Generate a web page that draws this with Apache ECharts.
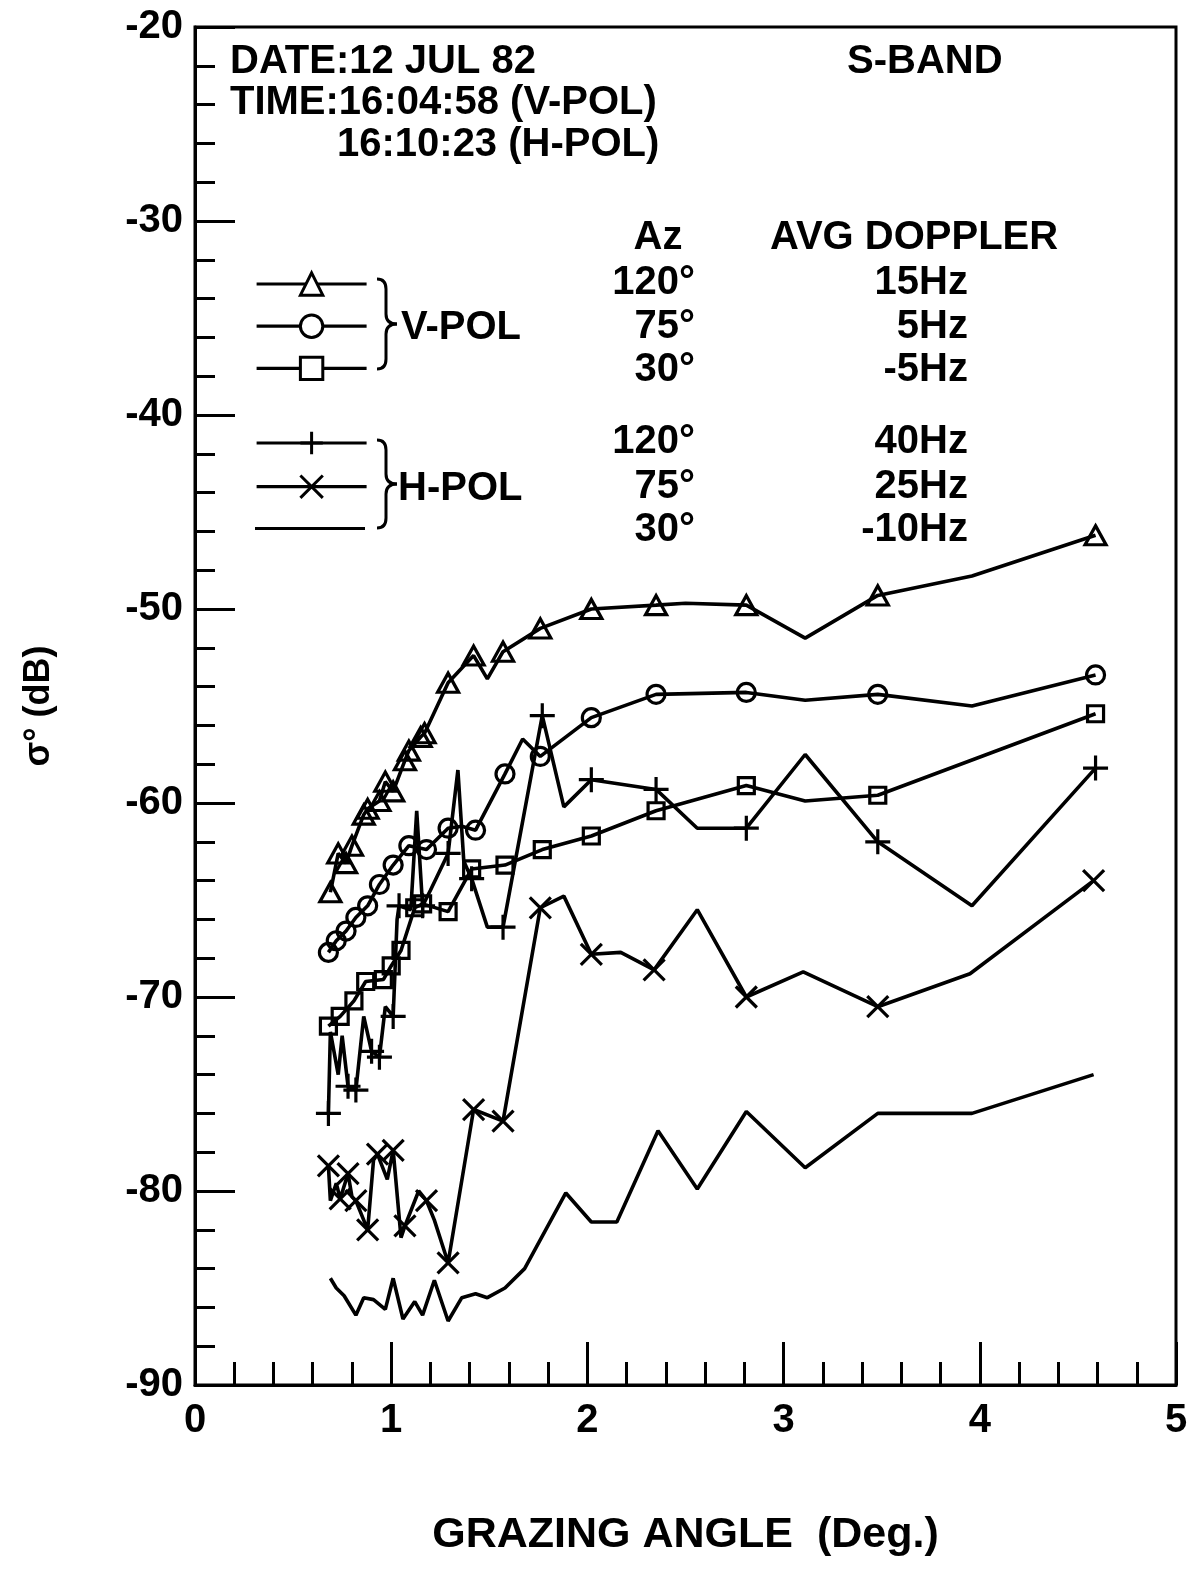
<!DOCTYPE html>
<html><head><meta charset="utf-8">
<script src="https://cdn.jsdelivr.net/npm/echarts/dist/echarts.min.js"></script>
<style>html,body{margin:0;padding:0;background:#fff}#c{width:1189px;height:1574px}</style>
</head><body><div id="c"></div>
<script>
// ---- data (grazing angle in deg, sigma0 in dB); mark: 1 = plotted symbol, 0 = vertex only
const vpol120X = [0.69,0.73,0.77,0.80,0.86,0.88,0.94,0.97,1.01,1.07,1.09,1.15,1.17,1.29,1.42,1.49,1.57,1.76,2.02,2.35,2.50,2.81,3.11,3.48,3.96,4.59];
const vpol120Y = [-64.6,-62.6,-63.1,-62.2,-60.6,-60.3,-59.9,-58.9,-59.4,-57.8,-57.3,-56.6,-56.4,-53.8,-52.4,-53.6,-52.2,-51.0,-50.0,-49.8,-49.7,-49.8,-51.5,-49.3,-48.3,-46.2];
const vpol120M = [1,1,1,1,1,1,1,1,1,1,1,1,1,1,1,0,1,1,1,1,0,1,0,1,0,1];

const vpol75X = [0.68,0.72,0.77,0.82,0.88,0.94,1.01,1.09,1.18,1.29,1.36,1.43,1.58,1.67,1.76,2.02,2.35,2.81,3.11,3.48,3.96,4.59];
const vpol75Y = [-67.7,-67.1,-66.6,-65.9,-65.3,-64.2,-63.2,-62.2,-62.4,-61.3,-61.2,-61.4,-58.5,-56.7,-57.6,-55.6,-54.4,-54.3,-54.7,-54.4,-55.0,-53.4];
const vpol75M = [1,1,1,1,1,1,1,1,1,1,0,1,1,0,1,1,1,1,0,1,0,1];

const vpol30X = [0.68,0.74,0.81,0.87,0.96,1.00,1.05,1.12,1.16,1.29,1.41,1.58,1.77,2.02,2.35,2.81,3.11,3.48,4.59];
const vpol30Y = [-71.5,-71.0,-70.2,-69.2,-69.1,-68.4,-67.6,-65.4,-65.2,-65.6,-63.4,-63.2,-62.4,-61.7,-60.4,-59.1,-59.9,-59.6,-55.4];
const vpol30M = [1,1,1,1,1,1,1,1,1,1,1,1,1,1,1,1,0,1,1];

const hpol120X = [0.68,0.69,0.73,0.75,0.78,0.82,0.86,0.90,0.94,0.97,1.01,1.03,1.04,1.10,1.13,1.16,1.20,1.29,1.34,1.37,1.41,1.49,1.57,1.77,1.88,2.02,2.35,2.56,2.81,3.11,3.48,3.96,4.59];
const hpol120Y = [-76.0,-71.8,-74.0,-72.0,-74.6,-74.8,-71.0,-72.8,-73.1,-70.5,-71.0,-66.0,-65.3,-65.5,-60.4,-65.3,-64.5,-62.6,-58.3,-63.0,-63.9,-66.4,-66.4,-55.5,-60.2,-58.8,-59.3,-61.3,-61.3,-57.5,-62.0,-65.3,-58.2];
const hpol120M = [1,0,0,0,1,1,0,1,1,0,1,0,1,0,0,1,0,1,0,0,1,0,1,1,0,1,1,0,1,0,1,0,1];

const hpol75X = [0.68,0.69,0.72,0.74,0.78,0.80,0.82,0.86,0.88,0.91,0.93,0.98,1.01,1.05,1.07,1.14,1.18,1.22,1.29,1.42,1.57,1.76,1.88,2.02,2.17,2.34,2.56,2.81,3.10,3.48,3.95,4.58];
const hpol75Y = [-78.7,-80.5,-79.6,-80.4,-79.1,-80.3,-80.5,-81.5,-82.0,-78.4,-78.1,-79.4,-77.9,-82.4,-81.8,-80.0,-80.5,-81.5,-83.7,-75.8,-76.4,-65.4,-64.8,-67.8,-67.7,-68.6,-65.5,-70.0,-68.7,-70.5,-68.8,-64.0];
const hpol75M = [1,0,0,1,1,0,1,0,1,0,1,0,1,0,1,0,1,0,1,1,1,1,0,1,0,1,0,1,0,1,0,1];

const hpol30X = [0.69,0.72,0.76,0.82,0.86,0.91,0.97,1.01,1.06,1.12,1.16,1.22,1.29,1.36,1.43,1.49,1.58,1.68,1.89,2.02,2.15,2.36,2.56,2.81,3.11,3.48,3.96,4.58];
const hpol30Y = [-84.5,-85.0,-85.4,-86.4,-85.5,-85.6,-86.1,-84.5,-86.6,-85.7,-86.4,-84.6,-86.7,-85.5,-85.3,-85.5,-85.0,-84.0,-80.1,-81.6,-81.6,-76.9,-79.9,-75.9,-78.8,-76.0,-76.0,-74.0];

const seriesNames = ['V-POL 120°','V-POL 75°','V-POL 30°','H-POL 120°','H-POL 75°','H-POL 30°'];
const azLabels = ['120°','75°','30°'];
const vDoppler = ['15Hz','5Hz','-5Hz'];
const hDoppler = ['40Hz','25Hz','-10Hz'];

// ---- styling
const FONT = '"Liberation Sans", Arial, Helvetica, sans-serif';
const PLUS = 'path://M10,0 L10,20 M0,10 L20,10';
const CROSS = 'path://M0,0 L20,20 M20,0 L0,20';

function pts(xs, ys, ms) {
  return xs.map((x, i) => (ms && !ms[i]) ? {value: [x, ys[i]], symbol: 'none'} : [x, ys[i]]);
}
function lineSeries(name, data, symbol, size) {
  return {
    type: 'line', name, data, symbol, symbolSize: size,
    lineStyle: {color: '#000', width: 3.6},
    itemStyle: {color: 'rgba(0,0,0,0)', borderColor: '#000', borderWidth: 3.2},
    emphasis: {disabled: true}, animation: false, clip: true
  };
}
function txt(text, x, y, align, size) {
  return {type: 'text', x, y, silent: true,
    style: {text, fill: '#000', font: 'bold ' + (size || 40) + 'px ' + FONT,
      textAlign: align || 'left', textVerticalAlign: 'middle'}};
}
function brace(xEnd, xTip, top, bot) {
  const xs = (xEnd + xTip) / 2 - 1, mid = (top + bot) / 2, r = 10;
  const st = {stroke: '#000', lineWidth: 3, fill: 'none'};
  return [
    {type: 'bezierCurve', shape: {x1: xEnd, y1: top, x2: xs, y2: top + r, cpx1: xs, cpy1: top}, style: st, silent: true},
    {type: 'line', shape: {x1: xs, y1: top + r, x2: xs, y2: mid - r}, style: st, silent: true},
    {type: 'bezierCurve', shape: {x1: xs, y1: mid - r, x2: xTip, y2: mid, cpx1: xs, cpy1: mid}, style: st, silent: true},
    {type: 'bezierCurve', shape: {x1: xTip, y1: mid, x2: xs, y2: mid + r, cpx1: xs, cpy1: mid}, style: st, silent: true},
    {type: 'line', shape: {x1: xs, y1: mid + r, x2: xs, y2: bot - r}, style: st, silent: true},
    {type: 'bezierCurve', shape: {x1: xs, y1: bot - r, x2: xEnd, y2: bot, cpx1: xs, cpy1: bot}, style: st, silent: true}
  ];
}

const axisFont = {color: '#000', fontSize: 40, fontWeight: 'bold', fontFamily: FONT};
const legendBase = {
  orient: 'vertical', left: 255, padding: 0, itemWidth: 110, itemHeight: 28,
  selectedMode: false, formatter: () => '', textStyle: {fontSize: 1},
  itemStyle: {color: '#fff', borderColor: '#000', borderWidth: 3},
  lineStyle: {color: '#000', width: 3.2}
};

const graphics = [
  txt('DATE:12 JUL 82', 230, 62),
  txt('TIME:16:04:58 (V-POL)', 230, 103),
  txt('16:10:23 (H-POL)', 337, 145),
  txt('S-BAND', 847, 62),
  txt('Az', 658, 238, 'center'),
  txt('AVG DOPPLER', 770, 238),
  txt('V-POL', 401, 328),
  txt('H-POL', 398, 489)
];
[283, 327, 370].forEach((y, i) => {
  graphics.push(txt(azLabels[i], 695, y, 'right'));
  graphics.push(txt(vDoppler[i], 968, y, 'right'));
});
[442, 487, 530].forEach((y, i) => {
  graphics.push(txt(azLabels[i], 695, y, 'right'));
  graphics.push(txt(hDoppler[i], 968, y, 'right'));
});
graphics.push(...brace(377, 397, 279, 369));
graphics.push(...brace(377, 397, 440, 528));

const chart = echarts.init(document.getElementById('c'), null, {renderer: 'canvas'});
chart.setOption({
  animation: false,
  backgroundColor: '#fff',
  textStyle: {fontFamily: FONT},
  grid: {left: 195, right: 13, top: 27, bottom: 189, show: true, borderColor: '#000', borderWidth: 3,
         containLabel: false, outerBoundsMode: 'none'},
  xAxis: {
    type: 'value', min: 0, max: 5, interval: 1,
    axisLine: {show: true, onZero: false, lineStyle: {color: '#000', width: 3}},
    axisTick: {show: true, inside: true, length: 43, lineStyle: {color: '#000', width: 3}},
    minorTick: {show: true, splitNumber: 5, length: 23, lineStyle: {color: '#000', width: 3}},
    splitLine: {show: false}, minorSplitLine: {show: false},
    axisLabel: Object.assign({margin: 16}, axisFont),
    name: 'GRAZING ANGLE  (Deg.)', nameLocation: 'middle', nameGap: 129, nameMoveOverlap: false,
    nameTextStyle: {color: '#000', fontSize: 43, fontWeight: 'bold', fontFamily: FONT}
  },
  yAxis: {
    type: 'value', min: -90, max: -20, interval: 10,
    axisLine: {show: true, onZero: false, lineStyle: {color: '#000', width: 3}},
    axisTick: {show: true, inside: true, length: 40, lineStyle: {color: '#000', width: 3}},
    minorTick: {show: true, splitNumber: 5, length: 20, lineStyle: {color: '#000', width: 3}},
    splitLine: {show: false}, minorSplitLine: {show: false},
    axisLabel: Object.assign({margin: 12}, axisFont),
    name: 'σ° (dB)', nameLocation: 'middle', nameRotate: 90, nameGap: 138, nameMoveOverlap: false,
    nameTextStyle: {color: '#000', fontSize: 36, fontWeight: 'bold', fontFamily: FONT}
  },
  legend: [
    Object.assign({}, legendBase, {top: 270, itemGap: 15.5, data: seriesNames.slice(0, 3)}),
    Object.assign({}, legendBase, {top: 429, itemGap: 17, data: seriesNames.slice(3, 5)}),
    Object.assign({}, legendBase, {top: 527, itemHeight: 3, icon: 'rect',
      itemStyle: {color: '#000', borderWidth: 0}, data: seriesNames.slice(5)})
  ],
  graphic: graphics,
  series: [
    lineSeries(seriesNames[0], pts(vpol120X, vpol120Y, vpol120M), 'triangle', [21, 19]),
    lineSeries(seriesNames[1], pts(vpol75X, vpol75Y, vpol75M), 'circle', 18),
    lineSeries(seriesNames[2], pts(vpol30X, vpol30Y, vpol30M), 'rect', 16),
    lineSeries(seriesNames[3], pts(hpol120X, hpol120Y, hpol120M), PLUS, 25),
    lineSeries(seriesNames[4], pts(hpol75X, hpol75Y, hpol75M), CROSS, 21),
    lineSeries(seriesNames[5], pts(hpol30X, hpol30Y), 'none', 0)
  ]
});
</script></body></html>
